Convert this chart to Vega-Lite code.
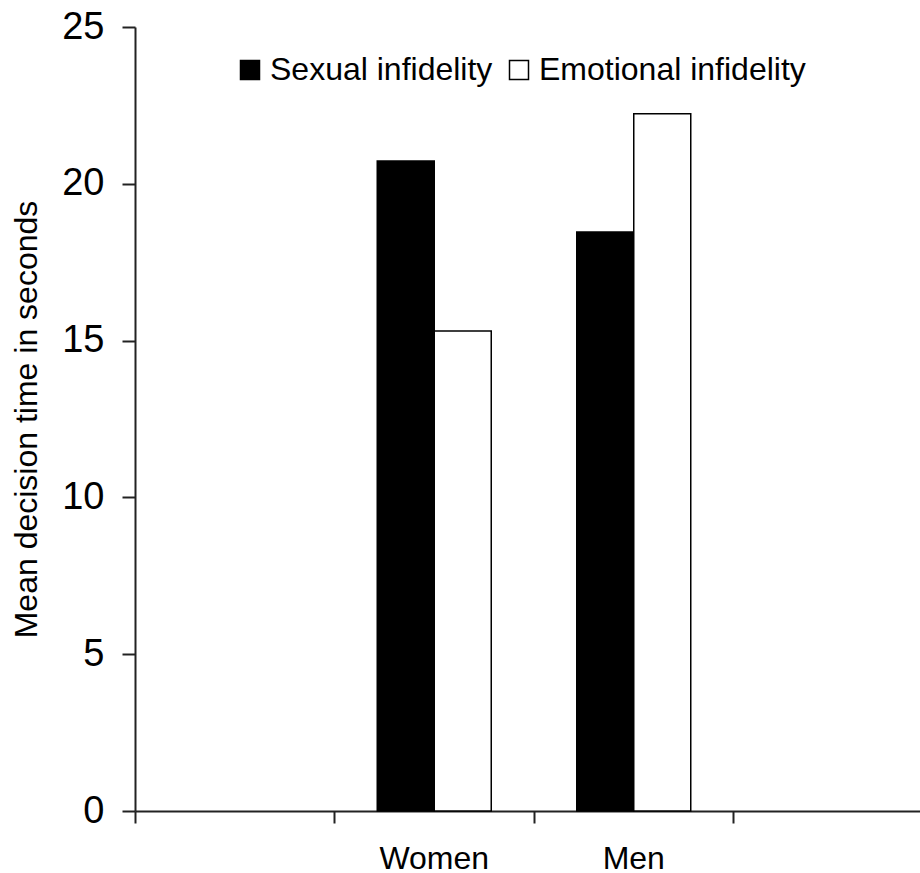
{
  "$schema": "https://vega.github.io/schema/vega-lite/v6.json",
  "width": 798,
  "height": 784,
  "autosize": "none",
  "padding": {"left": 135, "top": 27, "right": 0, "bottom": 62},
  "background": "white",
  "config": {"view": {"stroke": null}, "font": "Liberation Sans"},
  "data": {
    "values": [
      {"sex": "Women", "type": "Sexual infidelity", "time": 20.73},
      {"sex": "Women", "type": "Emotional infidelity", "time": 15.31},
      {"sex": "Men", "type": "Sexual infidelity", "time": 18.46},
      {"sex": "Men", "type": "Emotional infidelity", "time": 22.23}
    ]
  },
  "mark": {"type": "bar", "stroke": "black", "strokeWidth": 1.5},
  "encoding": {
    "x": {
      "field": "sex",
      "type": "nominal",
      "scale": {"domain": [" ", "Women", "Men", "  "], "paddingInner": 0, "paddingOuter": 0},
      "axis": {
        "title": null,
        "bandPosition": 0,
        "labelAngle": 0,
        "labelFontSize": 32,
        "labelFont": "Liberation Sans",
        "labelColor": "black",
        "labelPadding": 20,
        "tickSize": 12,
        "tickColor": "#222",
        "tickWidth": 2,
        "domainColor": "#222",
        "domainWidth": 2,
        "grid": false
      }
    },
    "xOffset": {
      "field": "type",
      "type": "nominal",
      "scale": {"domain": ["Sexual infidelity", "Emotional infidelity"], "paddingInner": 0, "paddingOuter": 0.75}
    },
    "y": {
      "field": "time",
      "type": "quantitative",
      "scale": {"domain": [0, 25], "nice": false},
      "axis": {
        "title": "Mean decision time in seconds",
        "values": [0, 5, 10, 15, 20, 25],
        "grid": false,
        "labelFontSize": 38,
        "labelFont": "Liberation Sans",
        "labelColor": "black",
        "labelPadding": 18,
        "tickSize": 13,
        "tickColor": "#222",
        "tickWidth": 2,
        "domainColor": "#222",
        "domainWidth": 2,
        "titleFont": "Liberation Sans",
        "titleFontSize": 32,
        "titleFontWeight": "normal",
        "titleColor": "black",
        "titleAngle": -90,
        "titleX": -99,
        "titleY": 392,
        "titleAlign": "center",
        "titleBaseline": "alphabetic"
      }
    },
    "fill": {
      "field": "type",
      "type": "nominal",
      "scale": {"domain": ["Sexual infidelity", "Emotional infidelity"], "range": ["black", "white"]},
      "legend": {
        "title": null,
        "orient": "none",
        "direction": "horizontal",
        "legendX": 99,
        "legendY": 27,
        "symbolType": "square",
        "symbolSize": 361,
        "symbolStrokeColor": "black",
        "symbolStrokeWidth": 1.5,
        "symbolOpacity": 1,
        "labelFontSize": 32,
        "labelFont": "Liberation Sans",
        "labelColor": "black",
        "labelOffset": 4,
        "columnPadding": 10,
        "labelLimit": 400
      }
    }
  }
}
